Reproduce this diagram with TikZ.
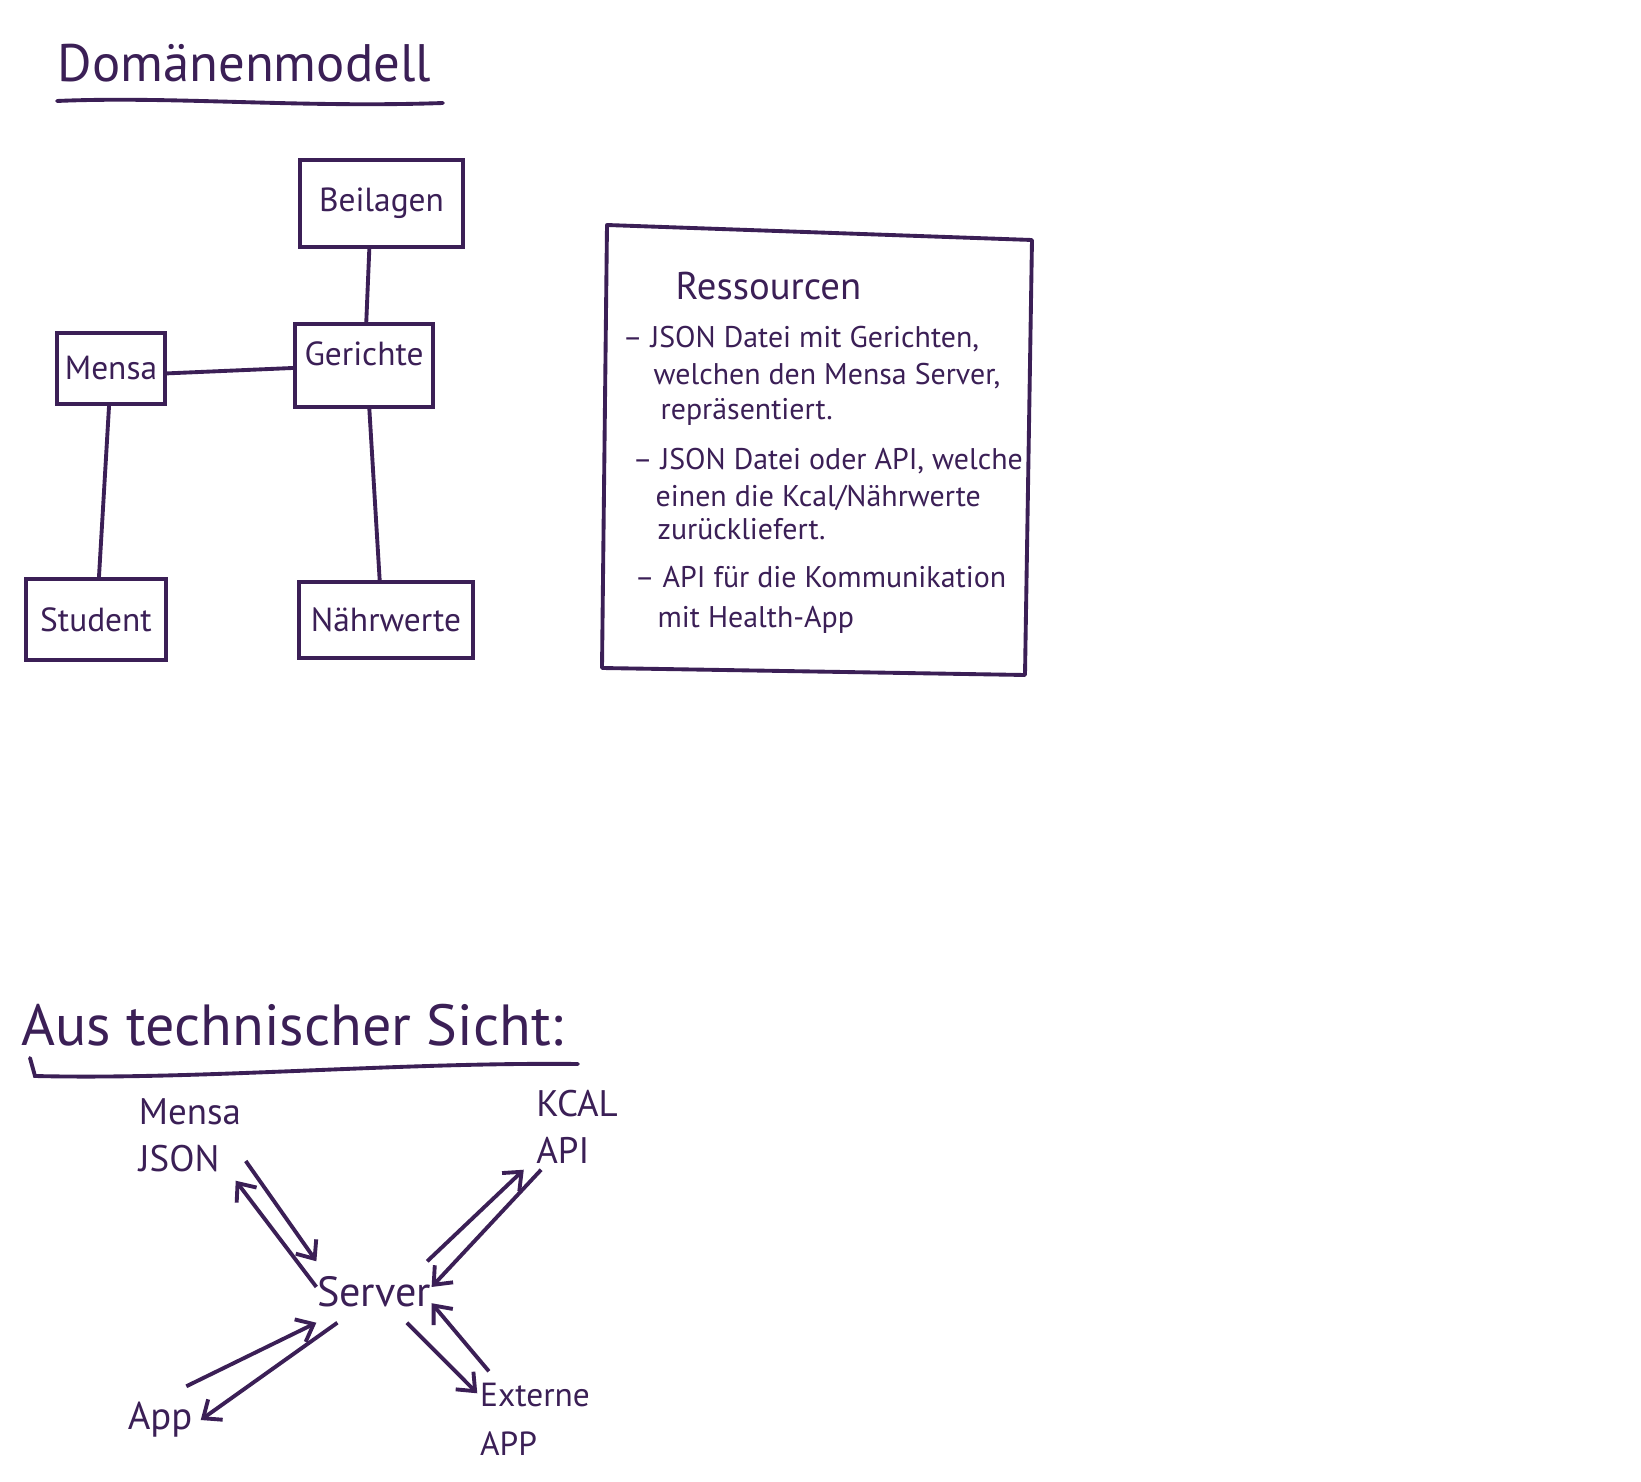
\documentclass[tikz,border=0pt]{standalone}
\usepackage{fontspec}
\setmainfont{PT Sans}
\usepackage{tikz}
\usetikzlibrary{arrows.meta,positioning}

\definecolor{ink}{RGB}{59,31,86}

\tikzset{
  entity/.style={draw=ink, line width=1.1pt, rectangle, inner sep=0pt, text=ink,
                 font=\fontsize{9.5}{11}\selectfont},
  tag/.style={inner sep=0pt, align=left, text=ink, font=\fontsize{10.5}{13.4}\selectfont},
  heading/.style={inner sep=0pt, anchor=base west, text=ink},
  resline/.style={inner sep=0pt, anchor=base west, text=ink, font=\fontsize{8.5}{10}\selectfont},
  link/.style={draw=ink, line width=1.1pt},
  flow/.style={draw=ink, line width=1.1pt, -{Straight Barb[length=1.5mm,width=2.5mm]}},
  stroke/.style={draw=ink, line width=1.1pt, line cap=round}
}

\begin{document}
\begin{tikzpicture}[x=0.01cm,y=-0.01cm]
  \useasboundingbox[fill=white] (0,0) rectangle (1641,1482);

  % Domaenenmodell
  \node[heading, font=\fontsize{15}{18}\selectfont] (titleA) at (57,82) {Domänenmodell};
  \draw[stroke] (57,101) .. controls (170,96) and (300,108) .. (443,103);

  \node[entity, minimum width=1.63cm, minimum height=0.87cm] (beilagen) at (381.5,203.5) {Beilagen};
  \node[entity, minimum width=1.08cm, minimum height=0.71cm] (mensa) at (111,368.5) {Mensa};
  \node[entity, minimum width=1.38cm, minimum height=0.83cm,
        text height=7pt, text depth=7pt] (gerichte) at (364,365.5) {Gerichte};
  \node[entity, minimum width=1.40cm, minimum height=0.81cm] (student) at (96,619.5) {Student};
  \node[entity, minimum width=1.74cm, minimum height=0.76cm] (naehrwerte) at (386,620) {Nährwerte};

  \path (beilagen.-105) edge[link] (gerichte.87);
  \path (mensa.-5) edge[link] (gerichte.182);
  \path (mensa.-93) edge[link] (student.86);
  \path (gerichte.-83) edge[link] (naehrwerte.99);

  % Ressourcen
  \draw[stroke, line join=round] (607,225) -- (1032,240) -- (1025,675) -- (602,668) -- cycle;
  \node[heading, font=\fontsize{11}{13}\selectfont] (restitle) at (675,300) {Ressourcen};
  \foreach \nr/\xx/\yy/\txt in {
      1/650/348/{\llap{-- }JSON Datei mit Gerichten,},
      2/653/385/{welchen den Mensa Server,},
      3/660/420/{repräsentiert.},
      4/660/470/{\llap{-- }JSON Datei oder API, welche},
      5/655/507/{einen die Kcal/Nährwerte},
      6/657/540/{zurückliefert.},
      7/662/588/{\llap{-- }API für die Kommunikation},
      8/657/628/{mit Health-App}}
    \node[resline] (res\nr) at (\xx,\yy) {\txt};

  % Aus technischer Sicht
  \node[heading, font=\fontsize{16.5}{19}\selectfont] (titleB) at (21,1045) {Aus technischer Sicht:};
  \draw[stroke] (30,1058) -- (35,1076) .. controls (200,1080) and (400,1062) .. (578,1064);

  \node[tag, minimum width=1.10cm, minimum height=0.90cm] (mensajson) at (190,1135) {Mensa\\JSON};
  \node[tag, minimum width=1.05cm, minimum height=0.84cm] (kcal) at (577,1127) {KCAL\\API};
  \node[tag, font=\fontsize{12}{14}\selectfont, minimum width=1.10cm, minimum height=0.60cm] (server) at (374,1292) {Server};
  \node[tag, font=\fontsize{11}{13}\selectfont, minimum width=0.80cm, minimum height=0.66cm] (app) at (160,1420) {App};
  \node[tag, font=\fontsize{9.5}{14}\selectfont, minimum width=1.14cm, minimum height=0.94cm] (externe) at (535,1419) {Externe\\APP};

  % Mensa JSON
  \path (mensajson.-25) edge[flow] (server.north west);
  \path (server.175) edge[flow] (mensajson.-45);
  % KCAL API
  \path (server.30) edge[flow] (kcal.south west);
  \path (kcal.230) edge[flow] (server.5);
  % App
  \path (server.220) edge[flow] (app.east);
  \path (app.52) edge[flow] (server.south west);
  % Externe APP
  \path (server.-43) edge[flow] (externe.156);
  \path (externe.134) edge[flow] (server.-11);
\end{tikzpicture}
\end{document}
